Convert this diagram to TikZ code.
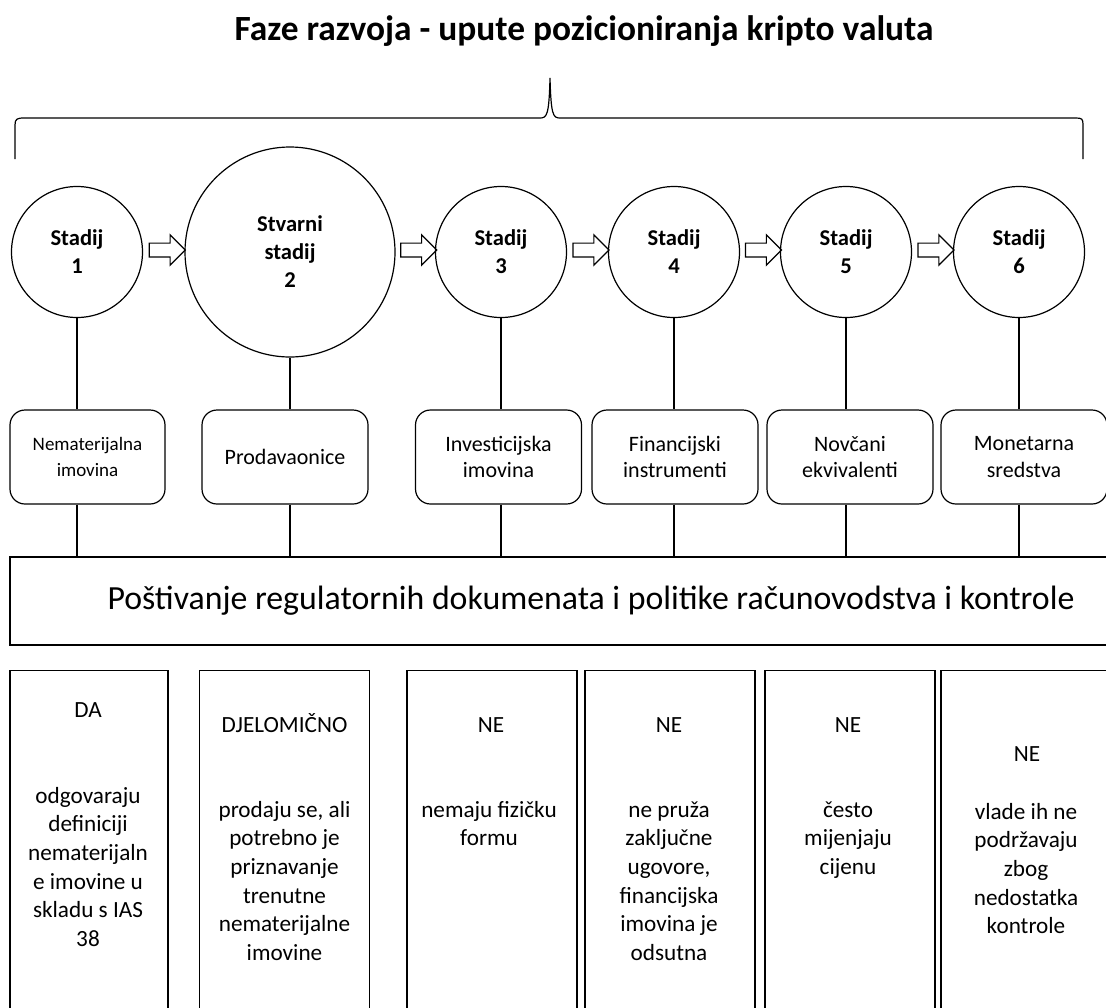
\documentclass[tikz,border=0pt]{standalone}
\usepackage{fontspec}
\setmainfont{Carlito}
\usetikzlibrary{shapes.arrows,calc}

\tikzset{
  stadij/.style={circle, draw, minimum size=65.5pt, inner sep=0pt, align=center,
    font=\bfseries\fontsize{11.3}{14}\selectfont},
  freccia/.style={single arrow, draw, minimum height=18pt, minimum width=14.5pt,
    single arrow head extend=4.1pt, inner xsep=0pt, inner ysep=3.15pt},
  vrsta/.style={draw, rounded corners=7.5pt, minimum width=83pt, minimum height=47pt,
    align=center, font=\fontsize{11}{13.3}\selectfont},
  ocjena/.style={draw, minimum width=85pt, minimum height=180pt, anchor=north},
  testo/.style={anchor=base, align=flush center, text width=80pt,
    font=\fontsize{11.6}{14.35}\selectfont},
}

\begin{document}
\begin{tikzpicture}[x=0.5pt, y=-0.5pt, line width=0.6pt]
    \useasboundingbox (0,0) rectangle (1106,1007);

    % Titolo e parentesi
    \node[anchor=base, font=\bfseries\fontsize{17.7}{20}\selectfont] (naslov) at (584,40)
        {Faze razvoja - upute pozicioniranja kripto valuta};
    \draw (15,159) -- (15,125) .. controls (15,119) and (17,118) .. (24,118) -- (540,118)
        .. controls (547,118) and (549,115) .. (550,78)
        .. controls (551,115) and (553,118) .. (560,118) -- (1076,118)
        .. controls (1082,118) and (1083,119) .. (1083,125) -- (1083,159);

    % Stadiji
    \node[stadij] (s1) at (77,252) {Stadij\\1};
    \node[stadij, minimum size=105pt] (s2) at (290,252) {Stvarni\\stadij\\2};
    \node[stadij] (s3) at (501,252) {Stadij\\3};
    \node[stadij] (s4) at (674,252) {Stadij\\4};
    \node[stadij] (s5) at (846,252) {Stadij\\5};
    \node[stadij] (s6) at (1019,252) {Stadij\\6};

    % Frecce tra gli stadi
    \foreach \a/\b in {s1/s2, s2/s3, s3/s4, s4/s5, s5/s6}
        \node[freccia, yshift=1pt] (f\a) at ($(\a.east)!0.5!(\b.west)$) {};

    % Vrste imovine
    \node[vrsta, minimum width=77.5pt, font=\fontsize{9.5}{13.3}\selectfont] (v1) at (87.5,457) {Nematerijalna\\imovina};
    \node[vrsta] (v2) at (285,457) {Prodavaonice};
    \node[vrsta] (v3) at (498.5,457) {Investicijska\\imovina};
    \node[vrsta] (v4) at (675,457) {Financijski\\instrumenti};
    \node[vrsta] (v5) at (850,457) {Novčani\\ekvivalenti};
    \node[vrsta] (v6) at (1024,457) {Monetarna\\sredstva};

    % Regolamento
    \node[draw, line width=0.7pt, minimum width=581pt, minimum height=44pt,
        font=\fontsize{16.9}{20}\selectfont] (pravila) at (591,601)
        {Poštivanje regulatornih dokumenata i politike računovodstva i kontrole};

    % Linee verticali
    \foreach \i in {1,...,6} {
        \draw (s\i.south) -- (s\i.south |- v\i.north);
        \draw (s\i.south |- v\i.south) -- (s\i.south |- pravila.north);
    }

    % Ocjene
    \node[ocjena, minimum width=79pt] (o1) at (89,670) {};
    \node[ocjena] (o2) at (284.5,670) {};
    \node[ocjena] (o3) at (492,670) {};
    \node[ocjena] (o4) at (670,670) {};
    \node[ocjena] (o5) at (850,670) {};
    \node[ocjena] (o6) at (1026,670) {};

    \node[testo] (d1) at (88,717) {DA};
    \node[testo] (t1) at (88,803) {odgovaraju\\definiciji\\nematerijaln\\e imovine u\\skladu s IAS\\38};
    \node[testo] (d2) at (284.5,732) {DJELOMIČNO};
    \node[testo] (t2) at (284.5,817) {prodaju se, ali\\potrebno je\\priznavanje\\trenutne\\nematerijalne\\imovine};
    \node[testo] (d3) at (491,732) {NE};
    \node[testo] (t3) at (489,817) {nemaju fizičku\\formu};
    \node[testo] (d4) at (669,732) {NE};
    \node[testo] (t4) at (669,817) {ne pruža\\zaključne\\ugovore,\\financijska\\imovina je\\odsutna};
    \node[testo] (d5) at (848,732) {NE};
    \node[testo] (t5) at (848,817) {često\\mijenjaju\\cijenu};
    \node[testo] (d6) at (1027,761) {NE};
    \node[testo] (t6) at (1026,819) {vlade ih ne\\podržavaju\\zbog\\nedostatka\\kontrole};
\end{tikzpicture}
\end{document}
